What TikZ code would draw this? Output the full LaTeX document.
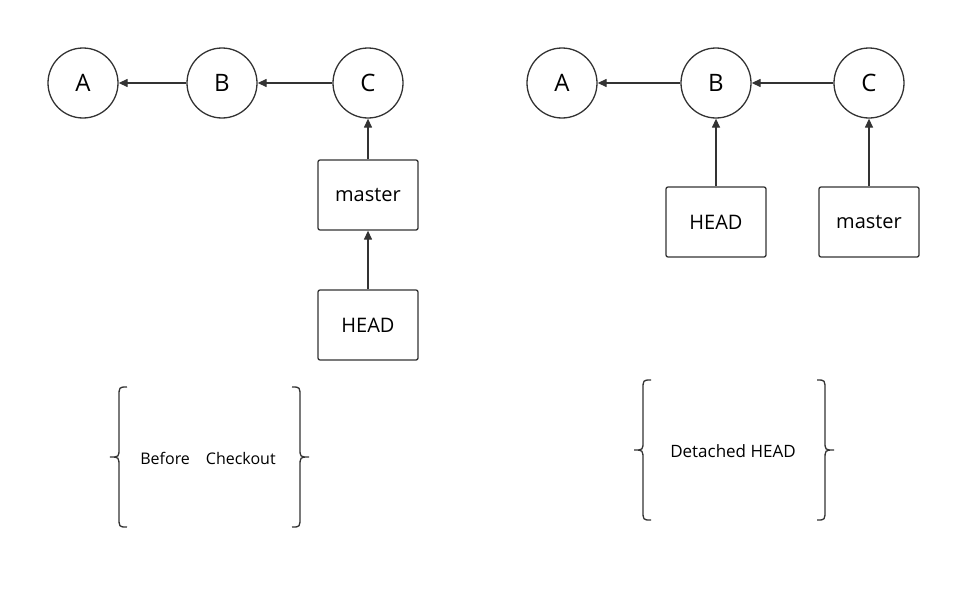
\documentclass[tikz,border=0pt]{standalone}
\usepackage{fontspec}
\setmainfont{Open Sans}
\usetikzlibrary{arrows.meta}
\begin{document}
\begin{tikzpicture}[x=1pt,y=-1pt,
  c/.style={circle,draw=black!80,line width=1.3pt,minimum size=70pt,inner sep=0pt,font=\fontsize{24}{28}\selectfont},
  b/.style={rectangle,rounded corners=2pt,draw=black!80,line width=1.3pt,minimum width=100pt,minimum height=70pt,inner sep=0pt,font=\fontsize{20}{24}\selectfont},
  a/.style={-{Triangle[length=9pt,width=8pt]},line width=1.3pt,draw=black!80},
  br/.style={line width=1.3pt,draw=black!80}]
\useasboundingbox (0,0) rectangle (980,589);
\node[c] (A1) at (83,83) {A};
\node[c] (B1) at (222,83) {B};
\node[c] (C1) at (368,83) {C};
\node[b] (M1) at (368,195) {master};
\node[b] (H1) at (368,325) {HEAD};
\draw[a] (B1) -- (A1);
\draw[a] (C1) -- (B1);
\draw[a] (M1) -- (C1);
\draw[a] (H1) -- (M1);
\node[c] (A2) at (562,83) {A};
\node[c] (B2) at (716,83) {B};
\node[c] (C2) at (869,83) {C};
\node[b] (H2) at (716,222) {HEAD};
\node[b] (M2) at (869,222) {master};
\draw[a] (B2) -- (A2);
\draw[a] (C2) -- (B2);
\draw[a] (H2) -- (B2);
\draw[a] (M2) -- (C2);
\node[font=\fontsize{16}{20}\selectfont] (T1) at (208,458) {Before\hspace{16pt}Checkout};
\node[font=\fontsize{17}{20}\selectfont] (T2) at (733,451) {Detached HEAD};
% braces
\draw[br] (127,387) .. controls (119,387) .. (119,397) -- (119,448) .. controls (119,457) .. (110,457) .. controls (119,457) .. (119,467) -- (119,517) .. controls (119,527) .. (127,527);
\draw[br] (292,387) .. controls (300,387) .. (300,397) -- (300,448) .. controls (300,457) .. (309,457) .. controls (300,457) .. (300,467) -- (300,517) .. controls (300,527) .. (292,527);
\draw[br] (651,380) .. controls (643,380) .. (643,390) -- (643,441) .. controls (643,450) .. (634,450) .. controls (643,450) .. (643,460) -- (643,510) .. controls (643,520) .. (651,520);
\draw[br] (817,380) .. controls (825,380) .. (825,390) -- (825,441) .. controls (825,450) .. (834,450) .. controls (825,450) .. (825,460) -- (825,510) .. controls (825,520) .. (817,520);
\end{tikzpicture}
\end{document}
